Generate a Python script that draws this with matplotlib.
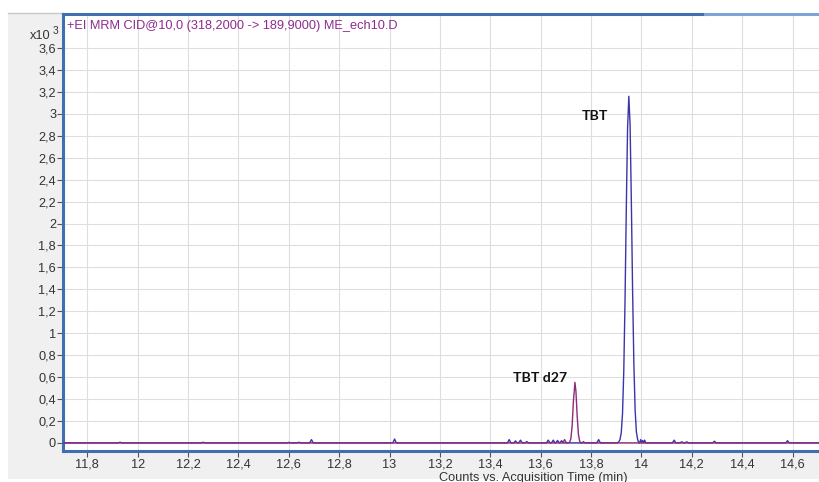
import matplotlib
matplotlib.use("Agg")
import matplotlib.pyplot as plt
from matplotlib.patches import Rectangle
from matplotlib.lines import Line2D

# ---------------- data ----------------
# TBT trace (blue) : acquisition time (min), counts (x10^3)
tbt_time = [11.70,
            11.923, 11.930, 11.937,
            12.253, 12.260, 12.267,
            12.593, 12.600, 12.607,
            12.633, 12.640, 12.647,
            12.683, 12.690, 12.697,
            13.013, 13.020, 13.027,
            13.468, 13.475, 13.482,
            13.493, 13.500, 13.507,
            13.513, 13.520, 13.527,
            13.538, 13.545, 13.552,
            13.623, 13.630, 13.637,
            13.643, 13.650, 13.657,
            13.660, 13.667, 13.674,
            13.676, 13.683, 13.690,
            13.823, 13.830, 13.837,
            13.905, 13.910, 13.915, 13.920, 13.925, 13.930, 13.935, 13.940,
            13.945, 13.950, 13.955, 13.960, 13.965, 13.970, 13.975, 13.980,
            13.985, 13.990,
            13.993, 13.997, 14.001, 14.005, 14.009, 14.013, 14.017,
            14.123, 14.130, 14.137,
            14.153, 14.160, 14.167,
            14.173, 14.180, 14.187,
            14.283, 14.290, 14.297,
            14.573, 14.580, 14.587,
            14.72]
tbt_counts = [0.0,
              0.0, 0.006, 0.0,
              0.0, 0.006, 0.0,
              0.0, 0.005, 0.0,
              0.0, 0.006, 0.0,
              0.0, 0.030, 0.0,
              0.0, 0.035, 0.0,
              0.0, 0.030, 0.0,
              0.0, 0.018, 0.0,
              0.0, 0.025, 0.0,
              0.0, 0.012, 0.0,
              0.0, 0.025, 0.0,
              0.0, 0.025, 0.0,
              0.0, 0.022, 0.0,
              0.0, 0.020, 0.0,
              0.0, 0.030, 0.0,
              0.0, 0.010, 0.030, 0.095, 0.27, 0.66, 1.31, 2.14,
              2.87, 3.16, 2.90, 2.20, 1.38, 0.72, 0.30, 0.10,
              0.03, 0.0,
              0.0, 0.030, 0.0, 0.022, 0.0, 0.025, 0.0,
              0.0, 0.025, 0.0,
              0.0, 0.010, 0.0,
              0.0, 0.010, 0.0,
              0.0, 0.015, 0.0,
              0.0, 0.020, 0.0,
              0.0]

# TBT d27 trace (purple)
d27_time = [11.70,
            13.688, 13.695, 13.702,
            13.710, 13.715, 13.720, 13.725, 13.730, 13.736, 13.740, 13.745,
            13.750, 13.755, 13.760,
            13.765, 13.770, 13.775,
            14.72]
d27_counts = [0.0,
              0.0, 0.030, 0.0,
              0.0, 0.006, 0.04, 0.16, 0.38, 0.552, 0.47, 0.24,
              0.075, 0.014, 0.0,
              0.0, 0.012, 0.0,
              0.0]

x_ticks = [11.8, 12.0, 12.2, 12.4, 12.6, 12.8, 13.0, 13.2, 13.4, 13.6,
           13.8, 14.0, 14.2, 14.4, 14.6]
x_tick_labels = ["11,8", "12", "12,2", "12,4", "12,6", "12,8", "13", "13,2",
                 "13,4", "13,6", "13,8", "14", "14,2", "14,4", "14,6"]
y_ticks = [0.0, 0.2, 0.4, 0.6, 0.8, 1.0, 1.2, 1.4, 1.6, 1.8, 2.0, 2.2, 2.4,
           2.6, 2.8, 3.0, 3.2, 3.4, 3.6]
y_tick_labels = ["0", "0,2", "0,4", "0,6", "0,8", "1", "1,2", "1,4", "1,6",
                 "1,8", "2", "2,2", "2,4", "2,6", "2,8", "3", "3,2", "3,4",
                 "3,6"]

title_text = "+EI MRM CID@10,0 (318,2000 -> 189,9000) ME_ech10.D"
x_label = "Counts vs. Acquisition Time (min)"
peak_labels = ["TBT", "TBT d27"]
peak_label_pos = [(13.815, 2.98), (13.597, 0.595)]

# ---------------- figure ----------------
W, H = 820, 482
fig = plt.figure(figsize=(W / 100, H / 100), dpi=100, facecolor="white")

def fx(px):
    return px / W

def fy(py):
    return 1 - py / H

# gray panel background (behind the axes)
fig.patches.append(Rectangle((fx(8), fy(479)), 1 - fx(8), fy(13) - fy(479),
                             transform=fig.transFigure, facecolor="#f0f0f0",
                             edgecolor="none", zorder=-10))
# thin gray border at top-left
fig.lines.append(Line2D([fx(8), fx(63)], [fy(13), fy(13)],
                        transform=fig.transFigure, color="#c8c8c8", lw=1))

ax_left, ax_top, ax_bottom = 63, 14, 451
ax = fig.add_axes([fx(ax_left), fy(ax_bottom), 1 - fx(ax_left),
                   fy(ax_top) - fy(ax_bottom)])
ax.set_zorder(1)
ax.set_facecolor("white")

ax.set_xlim(11.7035, 14.709)
ax.set_ylim(-0.074, 3.91)

ax.set_xticks(x_ticks)
ax.set_xticklabels(x_tick_labels)
ax.set_yticks(y_ticks)
ax.set_yticklabels(y_tick_labels)
ax.tick_params(axis="both", direction="out", length=4, width=0.8,
               color="#555555", labelcolor="#333333", labelsize=9.2)
ax.tick_params(axis="x", pad=1.5)
ax.tick_params(axis="y", pad=1.0)
for lab in ax.get_xticklabels() + ax.get_yticklabels():
    lab.set_family("Liberation Sans")

ax.grid(True, color="#dedede", lw=0.8)
ax.set_axisbelow(True)

for side in ["right", "top"]:
    ax.spines[side].set_visible(False)
for side in ["left", "bottom"]:
    ax.spines[side].set_color("#3f6fb0")
    ax.spines[side].set_linewidth(2.2)

# top blue border
fig.lines.append(Line2D([fx(63), fx(705)], [fy(14), fy(14)],
                        transform=fig.transFigure, color="#3f6fb0", lw=2.2,
                        zorder=5))
fig.lines.append(Line2D([fx(705), 1], [fy(14), fy(14)],
                        transform=fig.transFigure, color="#7fa3d4", lw=2.2,
                        zorder=5))

ax.plot(tbt_time, tbt_counts, color="#3a35a8", lw=1.0, zorder=3)
ax.plot(d27_time, d27_counts, color="#8e2a7a", lw=1.0, zorder=4)

for txt, (xx, yy) in zip(peak_labels, peak_label_pos):
    ax.text(xx, yy, txt, ha="center", va="center", fontsize=10.2,
            fontweight="bold", family="Lato", color="#111111", zorder=5)

# title inside plot
fig.text(fx(67), fy(26), title_text, ha="left", va="center", fontsize=9.2,
         family="Liberation Sans", color="#8e2a8e", zorder=6)

# multiplier
fig.text(fx(50), fy(36), "x10", ha="right", va="center", fontsize=9.2,
         family="Liberation Sans", color="#333333")
fig.text(fx(53), fy(31), "3", ha="left", va="center", fontsize=7.5,
         family="Liberation Sans", color="#333333")

# x label
fig.text(fx(533), fy(477.5), x_label, ha="center", va="center",
         fontsize=9.2, family="Liberation Sans", color="#333333")

fig.savefig("out.png", dpi=100, facecolor=fig.get_facecolor())
